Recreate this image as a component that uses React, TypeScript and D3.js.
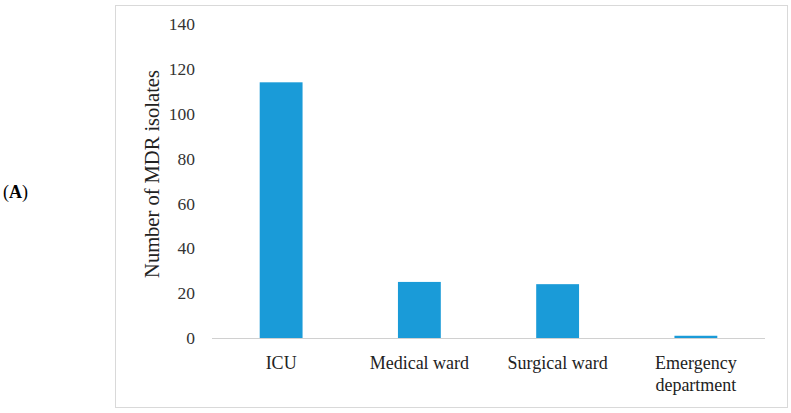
import React from "react";
import * as d3 from "d3";

const categories = ["ICU", "Medical ward", "Surgical ward", "Emergency department"];
const categoryLines = [["ICU"], ["Medical ward"], ["Surgical ward"], ["Emergency", "department"]];
const values = [114, 25, 24, 1];
const yTicks = [0, 20, 40, 60, 80, 100, 120, 140];

const W = 791;
const H = 413;
const FONT = "'Liberation Serif', 'Times New Roman', serif";

export default function App() {
  const x = d3
    .scaleBand<string>()
    .domain(categories)
    .range([212, 765])
    .paddingInner(0.69)
    .paddingOuter(0.345);
  const y = d3.scaleLinear().domain([0, 140]).range([338, 24]);

  return (
    <svg
      width={W}
      height={H}
      style={{ position: "absolute", left: 0, top: 0, background: "#fff" }}
      fontFamily={FONT}
    >
      <rect x={115.5} y={5.5} width={672} height={402} fill="#fff" stroke="#d9d9d9" strokeWidth={1} />
      <text x={3} y={198} fontSize={18} fill="#000">
        (<tspan fontWeight="bold">A</tspan>)
      </text>
      {yTicks.map((t) => (
        <text key={t} x={195} y={y(t)} dy="0.35em" textAnchor="end" fontSize={17.5} fill="#333">
          {t}
        </text>
      ))}
      <text
        transform={`translate(159, ${174}) rotate(-90)`}
        textAnchor="middle"
        fontSize={20.5}
        fill="#222"
      >
        Number of MDR isolates
      </text>
      {categories.map((c, i) => (
        <rect
          key={c}
          x={x(c)!}
          y={y(values[i])}
          width={x.bandwidth()}
          height={y(0) - y(values[i])}
          fill="#1a9bd8"
        />
      ))}
      <line x1={212} x2={765} y1={y(0) + 0.5} y2={y(0) + 0.5} stroke="#d0d0d0" strokeWidth={1} />
      {categories.map((c, i) => (
        <text key={c} x={x(c)! + x.bandwidth() / 2} y={369} textAnchor="middle" fontSize={18} fill="#222">
          {categoryLines[i].map((line, j) => (
            <tspan key={j} x={x(c)! + x.bandwidth() / 2} dy={j === 0 ? 0 : 22}>
              {line}
            </tspan>
          ))}
        </text>
      ))}
    </svg>
  );
}
